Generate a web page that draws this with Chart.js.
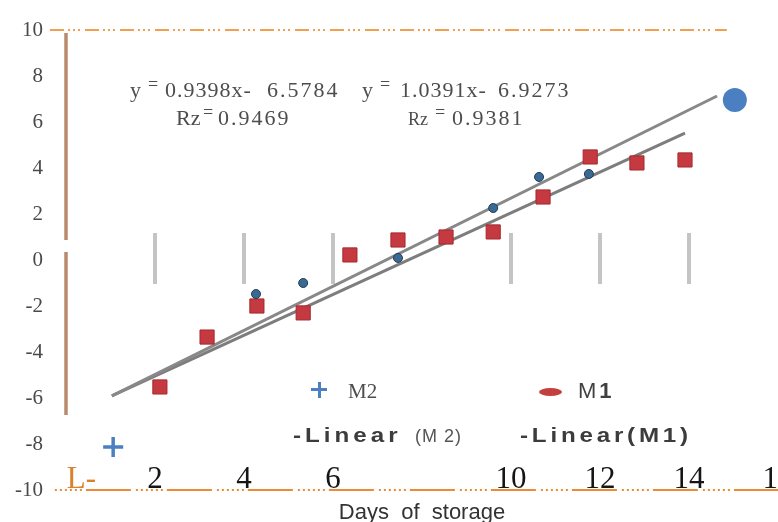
<!DOCTYPE html>
<html><head><meta charset="utf-8">
<script src="https://cdn.jsdelivr.net/npm/chart.js@4"></script>
<style>
body{margin:0;background:#fff}
#wrap{position:relative;width:778px;height:522px;overflow:hidden;background:#fff}
canvas{position:absolute;left:0;top:0}
.s{position:absolute;white-space:pre;line-height:1;font-family:"Liberation Serif","DejaVu Serif",serif;color:#4d4d4d}
.n{position:absolute;white-space:pre;line-height:1;font-family:"Liberation Sans",Arial,sans-serif;color:#404040}
.w{transform:scaleX(1.15);transform-origin:0 0}
.bar{position:absolute;background:#4a7fc1}
</style></head>
<body><div id="wrap"><canvas id="c" width="778" height="522"></canvas>
<!-- trendline equations -->
<div class="s" style="left:130px;top:79px;font-size:22px">y</div>
<div class="s" style="left:148px;top:75px;font-size:18px">=</div>
<div class="s" style="left:165px;top:79px;font-size:22px;letter-spacing:1px">0.9398x-</div>
<div class="s" style="left:267px;top:79px;font-size:22px;letter-spacing:2px">6.5784</div>
<div class="s" style="left:176px;top:107px;font-size:22px">Rz</div>
<div class="s" style="left:203px;top:103px;font-size:18px">=</div>
<div class="s" style="left:218px;top:107px;font-size:22px;letter-spacing:2px">0.9469</div>
<div class="s" style="left:362px;top:79px;font-size:22px">y</div>
<div class="s" style="left:380px;top:75px;font-size:18px">=</div>
<div class="s" style="left:400px;top:79px;font-size:22px;letter-spacing:1px">1.0391x-</div>
<div class="s" style="left:498px;top:79px;font-size:22px;letter-spacing:2px">6.9273</div>
<div class="s" style="left:408px;top:110px;font-size:18px">Rz</div>
<div class="s" style="left:435px;top:103px;font-size:18px">=</div>
<div class="s" style="left:452px;top:107px;font-size:22px;letter-spacing:2px">0.9381</div>
<!-- legend -->
<div class="bar" style="left:311px;top:388px;width:16px;height:3px"></div>
<div class="bar" style="left:317.5px;top:381.5px;width:3px;height:16px"></div>
<div class="s" style="left:348px;top:381px;font-size:21px">M2</div>
<div style="position:absolute;left:539px;top:388px;width:23px;height:8px;border-radius:50%;background:#c4403f"></div>
<div class="n" style="left:578px;top:380px;font-size:22px;letter-spacing:3px">M<b>1</b></div>
<div class="n w" style="left:293px;top:424px;font-size:21px;font-weight:bold;letter-spacing:3.5px;color:#3c3c3c">-Linear</div>
<div class="n" style="left:415px;top:427px;font-size:18px;color:#555;letter-spacing:1px">(M 2)</div>
<div class="n w" style="left:520px;top:424px;font-size:21px;font-weight:bold;letter-spacing:3.3px;color:#3c3c3c">-Linear(M1)</div>
</div>
<script>
// ---- data ----
const m1Days   = [2.11, 3.17, 4.29, 5.33, 6.38, 7.46, 8.54, 9.60, 10.72, 11.78, 12.83, 13.91];
const m1Values = [-5.52, -3.35, -2.00, -2.30, 0.22, 0.87, 1.00, 1.22, 2.74, 4.48, 4.22, 4.35];
const m2Days   = [4.27, 5.33, 7.46, 9.60, 10.63, 11.75];
const m2Values = [-1.48, -1.00, 0.09, 2.26, 3.61, 3.74];
const trendM2Days   = [1.03, 14.63];
const trendM2Values = [-5.91, 7.13];
const trendM1Days   = [1.03, 13.91];
const trendM1Values = [-5.91, 5.52];
const circleDays = [15.03];
const circleValues = [6.96];
const crossDays = [1.06];
const crossValues = [-8.13];
const guideDays = [2, 4, 6, 10, 12, 14];
const guideRange = [-1.04, 1.17];
const axisSegments = [[9.87, 0.87], [0.35, -6.74]];
const topRefSpan = [-0.36, 14.85];
const topRefValue = 10;
const bottomRefSpan = [-0.25, 16];
const bottomRefValue = -10;
const xTicks = [0, 2, 4, 6, 8, 10, 12, 14, 16];
const xTickLabels = ['\u2003L-', '2', '4', '6', '', '10', '12', '14', '16'];

// ---- build datasets ----
const pts = (xs, ys) => xs.map((x, i) => ({x: x, y: ys[i]}));
const guideData = [];
guideDays.forEach(d => guideData.push({x: d, y: guideRange[0]}, {x: d, y: guideRange[1]}, {x: d, y: null}));
const axisData = [];
axisSegments.forEach(s => axisData.push({x: 0, y: s[0]}, {x: 0, y: s[1]}, {x: 0, y: null}));

const lineBase = {showLine: true, pointRadius: 0, fill: false, clip: false};

new Chart(document.getElementById('c'), {
  type: 'scatter',
  data: {
    datasets: [
      {label: 'marker circle', data: pts(circleDays, circleValues), pointStyle: 'circle', pointRadius: 12,
       backgroundColor: '#4a7fc1', borderColor: '#4a7fc1', borderWidth: 0, clip: false, order: 0},
      {label: 'marker cross', data: pts(crossDays, crossValues), pointStyle: 'cross', pointRadius: 10,
       borderColor: '#4a7fc1', borderWidth: 3.5, clip: false, order: 0},
      {label: 'M2', data: pts(m2Days, m2Values), pointStyle: 'circle', pointRadius: 4.5,
       backgroundColor: '#3a6a92', borderColor: '#1f3c5a', borderWidth: 1, order: 1},
      {label: 'M1', data: pts(m1Days, m1Values), pointStyle: 'rect', pointRadius: 10,
       backgroundColor: '#c43a40', borderColor: '#a8282e', borderWidth: 1, order: 2},
      Object.assign({label: 'Linear (M2)', data: pts(trendM2Days, trendM2Values), borderColor: '#888888', borderWidth: 3, order: 3}, lineBase),
      Object.assign({label: 'Linear (M1)', data: pts(trendM1Days, trendM1Values), borderColor: '#7d7d7d', borderWidth: 3, order: 3}, lineBase),
      Object.assign({label: 'guides', data: guideData, borderColor: '#c4c4c4', borderWidth: 4, order: 4}, lineBase),
      Object.assign({label: 'axis', data: axisData, borderColor: '#b98a6b', borderWidth: 3.5, order: 4}, lineBase),
      Object.assign({label: 'top', data: pts(topRefSpan, [topRefValue, topRefValue]), borderColor: '#f0a050', borderWidth: 2,
        borderDash: [14, 4, 2, 3, 2, 3, 2, 5], order: 5}, lineBase),
      Object.assign({label: 'bottom', data: pts(bottomRefSpan, [bottomRefValue, bottomRefValue]), borderColor: '#ec8a35', borderWidth: 2,
        borderDash: [2, 3, 2, 3, 2, 3, 2, 3, 2, 3, 2, 4, 45, 5], order: 5}, lineBase)
    ]
  },
  options: {
    responsive: false,
    animation: false,
    devicePixelRatio: 1,
    layout: {autoPadding: false, padding: {top: 30, left: 0, right: 0, bottom: 0}},
    plugins: {legend: {display: false}, tooltip: {enabled: false}},
    scales: {
      x: {
        type: 'linear', min: 0, max: 16, position: 'bottom',
        grid: {display: false, drawTicks: false}, border: {display: false},
        afterBuildTicks: s => { s.ticks = xTicks.map(v => ({value: v})); },
        ticks: {
          autoSkip: false, maxRotation: 0, minRotation: 0, mirror: true, padding: -8,
          font: {family: 'Liberation Serif', size: 31},
          color: c => (c.tick && c.tick.value === 0) ? '#d9822b' : '#151515',
          callback: v => xTickLabels[xTicks.indexOf(v)]
        },
        title: {display: true, text: 'Days  of  storage', color: '#333',
          font: {family: 'Liberation Sans', size: 22}, padding: {top: 0, bottom: -4}},
        afterFit: s => { s.height = 32; s.paddingLeft = 0; s.paddingRight = 0; }
      },
      y: {
        type: 'linear', min: -10, max: 10,
        grid: {display: false, drawTicks: false}, border: {display: false},
        ticks: {stepSize: 2, padding: 23, font: {family: 'Liberation Serif', size: 21}, color: '#4a4a4a'},
        afterFit: s => { s.width = 66; s.paddingTop = 0; s.paddingBottom = 0; }
      }
    }
  }
});
</script>
</body></html>
